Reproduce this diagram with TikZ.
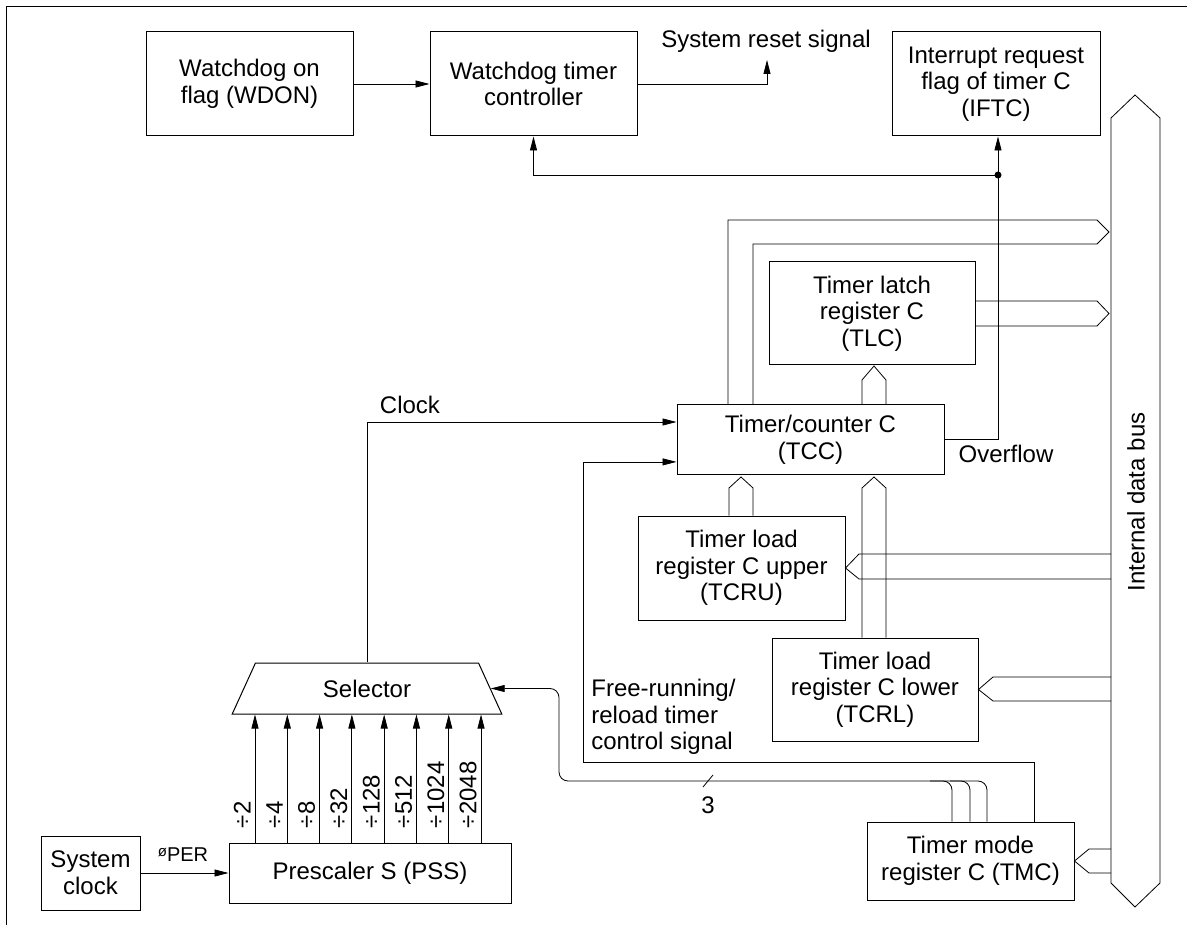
\documentclass[tikz,border=0pt]{standalone}
\usepackage{fontspec}
\setmainfont{Liberation Sans}
\usetikzlibrary{arrows.meta,shapes.geometric,calc}

\begin{document}
\begin{tikzpicture}[x=1pt,y=-1pt,line width=0.8pt,
  font=\fontsize{24}{26.7}\selectfont,
  block/.style={draw,line width=1pt,align=center,inner sep=0pt},
  sig/.style={-{Triangle[length=14pt,width=7pt]}},
  lbl/.style={inner sep=0pt}]
\useasboundingbox (0,0) rectangle (1187,925);
\draw[line width=1pt] (1187,7) -- (6,7) -- (6,925);

\node[block,minimum width=207pt,minimum height=104pt] (wdon) at (249.5,84) {Watchdog on\\flag (WDON)};
\node[block,minimum width=207pt,minimum height=104pt] (wdt) at (533.5,84) {Watchdog timer\\controller};
\node[block,minimum width=208pt,minimum height=104pt] (iftc) at (996,84) {Interrupt request\\flag of timer C\\(IFTC)};
\node[block,minimum width=206pt,minimum height=103pt] (tlc) at (872,313.5) {Timer latch\\register C\\(TLC)};
\node[block,minimum width=267pt,minimum height=69pt] (tcc) at (810.5,439.5) {Timer/counter C\\(TCC)};
\node[block,minimum width=207pt,minimum height=104pt] (tcru) at (741.5,568) {Timer load\\register C upper\\(TCRU)};
\node[block,minimum width=206pt,minimum height=103pt] (tcrl) at (875,689.5) {Timer load\\register C lower\\(TCRL)};
\node[block,minimum width=207pt,minimum height=78pt] (tmc) at (970.5,861) {Timer mode\\register C (TMC)};
\node[block,minimum width=282pt,minimum height=60pt] (pss) at (370,873) {Prescaler S (PSS)};
\node[block,minimum width=99pt,minimum height=74pt] (sysclk) at (90.5,873) {System\\clock};
\node[draw,line width=1pt,trapezium,trapezium stretches=true,trapezium angle=62.5,
  minimum width=270pt,minimum height=51pt,inner sep=0pt] (sel) at (367,688.5) {Selector};

\node[lbl] (rstlbl) at (766,41) {System reset signal};
\node[lbl] (clklbl) at (410,405) {Clock};
\node[lbl] (ovflbl) at (1006,454) {Overflow};
\node[lbl,align=left,anchor=west] (frlbl) at (591,717) {Free-running/\\reload timer\\control signal};
\node[lbl] (nbits) at (708,805) {3};
\node[lbl,rotate=90] (buslbl) at (1136,502) {Internal data bus};
\node[lbl] (phi) at (183,855) {\raisebox{5pt}{\fontsize{15}{15}\selectfont ø}\fontsize{20}{20}\selectfont PER};

\coordinate (rsttip) at (767,60);
\coordinate (dot) at (998,175);

\draw[sig] (wdon) -- (wdt);
\draw[sig] (wdt.east) -| (rsttip);
\draw[sig] (dot) -| (wdt.south);
\draw[sig] (dot) -- (dot |- iftc.south);
\draw (tcc.east) -| (dot);
\fill (dot) circle (3.5pt);

\draw[sig] (sel.north) |- ($(tcc.north west)!0.25!(tcc.south west)$);
\draw[sig] (1034,0 |- tmc.north) |- (583,762) |- ($(tcc.north west)!0.82!(tcc.south west)$);

\draw[sig,rounded corners=9pt] (952,0 |- tmc.north) |- (559,781) |- (sel.east);
\draw[rounded corners=9pt] (970,0 |- tmc.north) |- (930,781);
\draw[rounded corners=9pt] (987,0 |- tmc.north) |- (950,781);
\draw (703,787) -- (713,775);

\draw[sig] (sysclk) -- (pss);
\foreach \d [count=\i from 0] in {2,4,8,32,128,512,1024,2048} {
  \pgfmathsetmacro\xx{255+32.29*\i}
  \draw[sig] (\xx,0 |- pss.north) -- (\xx,0 |- sel.south);
  \node[lbl,rotate=90,anchor=south west] (div\i) at ($(\xx,0 |- pss.north)+(-4,-14)$) {÷\d};
}

\draw (1111,118) -- (1135,95) -- (1160,118) -- (1160,883) -- (1135,907) -- (1111,883) -- cycle;

\draw (728,0 |- tcc.north) |- (1097,220) -- (1109,232) -- (1097,244) -| (753,0 |- tcc.north);
\draw ($(tlc.east)+(0,-12.5)$) -- (1097,301) -- (1109,313.5) -- (1097,326) -- ($(tlc.east)+(0,12.5)$);
\draw (862,0 |- tcc.north) -- (862,380) -- (874,366) -- (886,380) -- (886,0 |- tcc.north);
\draw (729,0 |- tcru.north) -- (729,488) -- (741,477) -- (753,488) -- (753,0 |- tcru.north);
\draw (862,0 |- tcrl.north) -- (862,488) -- (874,477) -- (886,488) -- (886,0 |- tcrl.north);
\draw (1111,554) -- (859,554) -- (tcru.east) -- (859,579) -- (1111,579);
\draw (1111,677) -- (993,677) -- (tcrl.east) -- (993,701) -- (1111,701);
\draw (1111,849) -- (1089,849) -- (tmc.east) -- (1089,873) -- (1111,873);
\end{tikzpicture}
\end{document}
